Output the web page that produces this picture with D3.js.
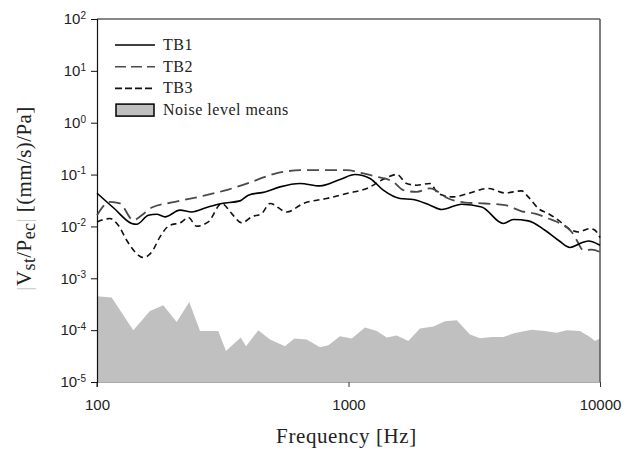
<!DOCTYPE html>
<html>
<head>
<meta charset="utf-8">
<script src="https://cdn.jsdelivr.net/npm/d3@7"></script>
<style>
  body { margin: 0; background: #fff; }
  .tick text { font-family: "Liberation Sans", Arial, sans-serif; font-size: 15px; fill: #222; }
</style>
</head>
<body>
<script>
// data (frequency in Hz, value in (mm/s)/Pa)
const tb1Freq = [100, 116.8, 137.4, 143.8, 160, 172.7, 186.4, 213.8, 237.9, 277, 313.2, 370.4, 399.6, 465.6, 534.2, 641.5, 770, 925, 1061, 1218, 1375, 1602, 1810, 2109, 2348, 2818, 3386, 4126, 4522, 5187, 6043, 6827, 7598, 8327, 8985, 10000];
const tb1Val  = [0.0438, 0.0224, 0.0114, 0.0110, 0.0164, 0.0172, 0.0153, 0.0206, 0.0190, 0.0238, 0.0277, 0.0311, 0.040, 0.0463, 0.0579, 0.0673, 0.0605, 0.0804, 0.1005, 0.0841, 0.050, 0.0346, 0.033, 0.0257, 0.0212, 0.0268, 0.0238, 0.0114, 0.0136, 0.0128, 0.00845, 0.00542, 0.00392, 0.00468, 0.00525, 0.00434];

const tb2Freq = [100, 112.6, 123.4, 139.4, 150.6, 165.1, 204.2, 260.9, 332.7, 412.2, 465.6, 534.2, 661, 819, 983.5, 1145, 1295, 1507, 1652, 1867, 2109, 2494, 2905, 3489, 4192, 4883, 5515, 6229, 7043, 7719, 8081, 8583, 9268, 10000];
const tb2Val  = [0.0164, 0.0297, 0.0277, 0.0132, 0.0164, 0.0232, 0.0297, 0.0383, 0.0515, 0.0723, 0.0903, 0.110, 0.1217, 0.1217, 0.1217, 0.105, 0.0903, 0.0723, 0.050, 0.0463, 0.054, 0.0346, 0.0289, 0.0277, 0.0257, 0.0196, 0.0177, 0.0142, 0.0110, 0.00783, 0.00542, 0.00347, 0.00358, 0.00322];

const tb3Freq = [100, 112.6, 121.5, 131.2, 141.6, 152.8, 165.1, 178, 192.1, 217.2, 230.7, 249.1, 277, 313.2, 343.2, 376.2, 412.2, 451.8, 487.4, 568, 661, 819, 983.5, 1182, 1397, 1555, 1703, 1867, 2109, 2275, 2611, 2995, 3597, 4192, 4883, 5187, 5684, 6229, 6827, 7719, 8200, 9126, 9552, 10000];
const tb3Val  = [0.0122, 0.0142, 0.0105, 0.00542, 0.00322, 0.00251, 0.00322, 0.00627, 0.0101, 0.0122, 0.0149, 0.0101, 0.0122, 0.0277, 0.0177, 0.0117, 0.0153, 0.0177, 0.0277, 0.0190, 0.0277, 0.0346, 0.0432, 0.054, 0.0841, 0.1005, 0.0673, 0.0624, 0.0673, 0.0432, 0.0371, 0.0432, 0.054, 0.0443, 0.0485, 0.0371, 0.0222, 0.0177, 0.0132, 0.00845, 0.00783, 0.0091, 0.00845, 0.0061];

const noiseFreq = [100, 114.4, 139.4, 162.4, 183.5, 207.4, 232.8, 256.8, 303.6, 325.7, 372.7, 391.2, 437.8, 487.4, 559.2, 608.9, 682.2, 770.1, 831.2, 925.1, 1030, 1163, 1295, 1419, 1555, 1729, 1924, 2174, 2419, 2693, 3042, 3333, 3710, 4126, 4592, 5350, 6043, 6727, 7373, 8327, 9126, 9552, 10000];
const noiseVal  = [4.5e-4, 4.24e-4, 9.9e-5, 2.34e-4, 3.01e-4, 1.43e-4, 3.48e-4, 9.6e-5, 9.6e-5, 3.95e-5, 7.2e-5, 4.9e-5, 9.9e-5, 6.6e-5, 4.9e-5, 6.9e-5, 6.6e-5, 4.7e-5, 5.1e-5, 7.6e-5, 6.9e-5, 1.12e-4, 9.6e-5, 7.2e-5, 7.9e-5, 6.2e-5, 1.07e-4, 1.18e-4, 1.48e-4, 1.55e-4, 8.2e-5, 7.0e-5, 7.4e-5, 7.4e-5, 8.8e-5, 1.02e-4, 9.6e-5, 8.9e-5, 9.9e-5, 9.6e-5, 7.4e-5, 6.2e-5, 6.9e-5];

const xTicks = [100, 1000, 10000];
const yExponents = [-5, -4, -3, -2, -1, 0, 1, 2];
const legendNames = ["TB1", "TB2", "TB3", "Noise level means"];

let margin = {top: 19, left: 97, bottom: 70, right: 26};
let width = 626 - margin.left - margin.right;
let height = 452 - margin.top - margin.bottom;

let svg = d3.select("body").append("svg")
  .attr("width", 626).attr("height", 452)
  .append("g")
  .attr("transform", "translate(" + margin.left + "," + margin.top + ")");

let x = d3.scaleLog().domain([100, 10000]).range([0, width]);
let y = d3.scaleLog().domain([1e-5, 1e2]).range([height, 0]);

function zip(f, v) { return f.map((d, i) => ({f: d, v: v[i]})); }

// noise area
svg.append("path")
  .datum(zip(noiseFreq, noiseVal))
  .attr("fill", "#c0c0c0")
  .attr("d", d3.area().x(d => x(d.f)).y0(height).y1(d => y(d.v)));

// frame
svg.append("line").attr("x1", 0).attr("x2", width).attr("y1", 0).attr("y2", 0).attr("stroke", "#111").attr("stroke-width", 1.2);
svg.append("line").attr("x1", width).attr("x2", width).attr("y1", 0).attr("y2", height).attr("stroke", "#555").attr("stroke-width", 1.5);

// axes
let xAxis = svg.append("g")
  .attr("transform", "translate(0," + height + ")")
  .call(d3.axisBottom(x).tickValues(xTicks).tickFormat(d3.format("d")).tickSizeOuter(0).tickSize(5).tickPadding(12));
xAxis.select(".domain").attr("stroke", "#aaa");
xAxis.selectAll(".tick line").attr("stroke", "#333");

let yAxis = svg.append("g")
  .call(d3.axisLeft(y).tickValues(yExponents.map(e => Math.pow(10, e))).tickSizeOuter(0).tickSize(6).tickPadding(5).tickFormat(""));
yAxis.select(".domain").attr("stroke", "#111").attr("stroke-width", 1.2);
yAxis.selectAll(".tick line").attr("stroke", "#111");
yAxis.selectAll(".tick text").each(function(d) {
  let t = d3.select(this);
  t.text("");
  t.append("tspan").text("10");
  t.append("tspan").attr("dy", "-0.55em").attr("font-size", "10px").text(Math.round(Math.log10(d)));
});
// left axis extends down past the bottom
svg.append("line").attr("x1", 0).attr("x2", 0).attr("y1", height).attr("y2", height + 5).attr("stroke", "#111");

// series
let line = d3.line().x(d => x(d.f)).y(d => y(d.v)).curve(d3.curveMonotoneX);
svg.append("path").datum(zip(tb3Freq, tb3Val)).attr("d", line)
  .attr("fill", "none").attr("stroke", "#111").attr("stroke-width", 1.6).attr("stroke-dasharray", "6,4");
svg.append("path").datum(zip(tb2Freq, tb2Val)).attr("d", line)
  .attr("fill", "none").attr("stroke", "#4a4a4a").attr("stroke-width", 1.8).attr("stroke-dasharray", "12,6");
svg.append("path").datum(zip(tb1Freq, tb1Val)).attr("d", line)
  .attr("fill", "none").attr("stroke", "#000").attr("stroke-width", 1.6);

// axis titles
svg.append("text")
  .attr("x", x(1000) - 2).attr("y", height + 61)
  .attr("text-anchor", "middle")
  .style("font-family", "'Liberation Serif', 'Times New Roman', serif")
  .style("font-size", "21px").style("letter-spacing", "0.6px").style("fill", "#222")
  .text("Frequency [Hz]");

let yt = svg.append("text")
  .attr("transform", "translate(-66," + (height / 2 - 2) + ") rotate(-90)")
  .attr("text-anchor", "middle")
  .style("font-family", "'Liberation Serif', 'Times New Roman', serif")
  .style("font-size", "21px").style("letter-spacing", "0.4px").style("fill", "#222");
yt.append("tspan").attr("fill", "#ccc").text("|");
yt.append("tspan").text("V");
yt.append("tspan").attr("dy", 4).attr("font-size", "18px").text("st");
yt.append("tspan").attr("dy", -4).text("/P");
yt.append("tspan").attr("dy", 4).attr("font-size", "18px").text("ec");
yt.append("tspan").attr("dy", -4).attr("fill", "#ccc").text("|");
yt.append("tspan").text(" [(mm/s)/Pa]");

// legend
let legend = svg.append("g").attr("class", "legend").attr("transform", "translate(18,26)");
let styles = [
  {stroke: "#000", dash: null},
  {stroke: "#4a4a4a", dash: "11,5"},
  {stroke: "#111", dash: "7,3"}
];
legendNames.forEach((name, i) => {
  let yy = i * 21.7;
  if (i < 3) {
    legend.append("line").attr("x1", 0).attr("x2", 40).attr("y1", yy).attr("y2", yy)
      .attr("stroke", styles[i].stroke).attr("stroke-width", 1.6)
      .attr("stroke-dasharray", styles[i].dash);
  } else {
    legend.append("rect").attr("x", 1).attr("y", yy - 6).attr("width", 38).attr("height", 12)
      .attr("fill", "#c0c0c0").attr("stroke", "#000").attr("stroke-width", 1.5);
  }
  legend.append("text").attr("x", 48).attr("y", yy + 5)
    .style("font-family", "'Liberation Serif', 'Times New Roman', serif")
    .style("font-size", "16px").style("letter-spacing", "0.5px").style("fill", "#222")
    .text(name);
});
</script>
</body>
</html>
